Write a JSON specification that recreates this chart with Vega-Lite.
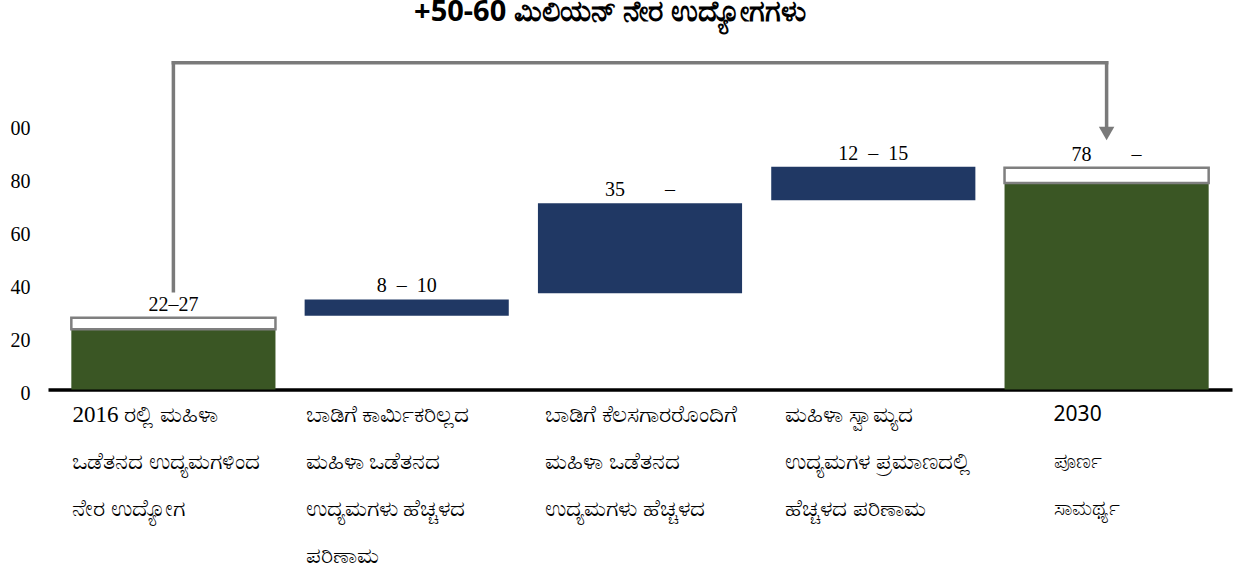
{
  "$schema": "https://vega.github.io/schema/vega-lite/v6.json",
  "autosize": {"type": "none"},
  "padding": {"left": 48, "top": 45, "right": 12, "bottom": 181.5},
  "width": 1184,
  "height": 344.5,
  "background": "white",
  "config": {"view": {"stroke": null}},
  "title": {
    "text": "+50-60 ಮಿಲಿಯನ್ ನೇರ ಉದ್ಯೋಗಗಳು",
    "font": "Noto Sans",
    "fontSize": 29,
    "fontWeight": "bold",
    "color": "black",
    "anchor": "middle",
    "baseline": "alphabetic",
    "offset": -5,
    "dx": -30
  },
  "datasets": {
    "cols": [
      {"cat": "2016 ರಲ್ಲಿ ಮಹಿಳಾ|ಒಡೆತನದ ಉದ್ಯಮಗಳಿಂದ|ನೇರ ಉದ್ಯೋಗ", "lo": 0, "hi": 22.7, "kind": "total", "boxLo": 22.7, "boxHi": 27.1, "text": "22–27", "textAt": 27.1},
      {"cat": "ಬಾಡಿಗೆ ಕಾರ್ಮಿಕರಿಲ್ಲದ|ಮಹಿಳಾ ಒಡೆತನದ|ಉದ್ಯಮಗಳು ಹೆಚ್ಚಳದ|ಪರಿಣಾಮ", "lo": 27.8, "hi": 34.0, "kind": "step", "boxLo": null, "boxHi": null, "text": "8\u00a0\u00a0–\u00a0\u00a010", "textAt": 34.0},
      {"cat": "ಬಾಡಿಗೆ ಕೆಲಸಗಾರರೊಂದಿಗೆ|ಮಹಿಳಾ ಒಡೆತನದ|ಉದ್ಯಮಗಳು ಹೆಚ್ಚಳದ", "lo": 36.3, "hi": 70.3, "kind": "step", "boxLo": null, "boxHi": null, "text": "35\u00a0\u00a0\u00a0\u00a0\u00a0\u00a0\u00a0\u00a0–", "textAt": 70.3},
      {"cat": "ಮಹಿಳಾ ಸ್ವಾಮ್ಯದ|ಉದ್ಯಮಗಳ ಪ್ರಮಾಣದಲ್ಲಿ|ಹೆಚ್ಚಳದ ಪರಿಣಾಮ", "lo": 71.4, "hi": 84.1, "kind": "step", "boxLo": null, "boxHi": null, "text": "12\u00a0\u00a0–\u00a0\u00a015", "textAt": 84.1},
      {"cat": "2030|ಪೂರ್ಣ|ಸಾಮರ್ಥ್ಯ", "lo": 0, "hi": 77.9, "kind": "total", "boxLo": 77.9, "boxHi": 83.7, "text": "78\u00a0\u00a0\u00a0\u00a0\u00a0\u00a0\u00a0\u00a0–", "textAt": 83.7}
    ],
    "bracket": [
      {"from": "2016 ರಲ್ಲಿ ಮಹಿಳಾ|ಒಡೆತನದ ಉದ್ಯಮಗಳಿಂದ|ನೇರ ಉದ್ಯೋಗ", "to": "2016 ರಲ್ಲಿ ಮಹಿಳಾ|ಒಡೆತನದ ಉದ್ಯಮಗಳಿಂದ|ನೇರ ಉದ್ಯೋಗ", "y1": 37.3, "y2": 123.3},
      {"from": "2016 ರಲ್ಲಿ ಮಹಿಳಾ|ಒಡೆತನದ ಉದ್ಯಮಗಳಿಂದ|ನೇರ ಉದ್ಯೋಗ", "to": "2030|ಪೂರ್ಣ|ಸಾಮರ್ಥ್ಯ", "y1": 123.3, "y2": 123.3},
      {"from": "2030|ಪೂರ್ಣ|ಸಾಮರ್ಥ್ಯ", "to": "2030|ಪೂರ್ಣ|ಸಾಮರ್ಥ್ಯ", "y1": 123.3, "y2": 98}
    ],
    "arrow": [
      {"cat": "2030|ಪೂರ್ಣ|ಸಾಮರ್ಥ್ಯ", "y": 96.6}
    ]
  },
  "layer": [
    {
      "data": {"name": "cols"},
      "mark": {"type": "bar", "stroke": null},
      "encoding": {
        "x": {
          "field": "cat", "type": "nominal", "sort": null,
          "scale": {"paddingInner": 0.125, "paddingOuter": 0.1},
          "axis": {
            "title": null,
            "domainColor": "black",
            "domainWidth": 3.5,
            "ticks": false,
            "labelAngle": 0,
            "labelAlign": "left",
            "labelBaseline": "top",
            "labelExpr": "split(datum.label, '|')",
            "labelLineHeight": 47,
            "labelPadding": 14,
            "labelFont": {"condition": {"test": "indexof(datum.label, '2030') >= 0", "value": "Noto Sans"}, "value": "Liberation Serif"},
            "labelFontSize": {"condition": {"test": "indexof(datum.label, '2030') >= 0", "value": 21}, "value": 23},
            "labelColor": "black",
            "labelLimit": 0,
            "labelOverlap": false,
            "labelBound": false,
            "labelOffset": {"condition": [
              {"test": "indexof(datum.label, '2030') >= 0", "value": -53},
              {"test": "indexof(datum.label, 'ಕೆಲಸಗಾರರೊಂದಿಗೆ') >= 0", "value": -95},
              {"test": "indexof(datum.label, 'ಸ್ವಾಮ್ಯದ') >= 0", "value": -88}
            ], "value": -101}
          }
        },
        "y": {
          "field": "lo", "type": "quantitative",
          "scale": {"domain": [0, 130], "nice": false, "zero": true},
          "axis": {
            "title": null,
            "values": [0, 20, 40, 60, 80, 100],
            "labelExpr": "datum.value == 100 ? '00' : datum.label",
            "domain": false,
            "ticks": false,
            "grid": false,
            "labelFont": "Liberation Serif",
            "labelFontSize": 20,
            "labelColor": "black",
            "labelPadding": 18,
            "labelOffset": 4
          }
        },
        "y2": {"field": "hi"},
        "color": {
          "field": "kind", "type": "nominal",
          "scale": {"domain": ["total", "step"], "range": ["#3a5624", "#203864"]},
          "legend": null
        }
      }
    },
    {
      "data": {"name": "cols"},
      "transform": [{"filter": "datum.boxLo != null"}],
      "mark": {"type": "bar", "fill": "white", "stroke": "#7f7f7f", "strokeWidth": 2.5},
      "encoding": {
        "x": {"field": "cat", "type": "nominal", "sort": null},
        "y": {"field": "boxLo", "type": "quantitative"},
        "y2": {"field": "boxHi"}
      }
    },
    {
      "data": {"name": "cols"},
      "mark": {"type": "text", "font": "Liberation Serif", "fontSize": 20, "color": "black", "baseline": "alphabetic", "align": "center", "dy": -7},
      "encoding": {
        "x": {"field": "cat", "type": "nominal", "sort": null},
        "y": {"field": "textAt", "type": "quantitative"},
        "text": {"field": "text"}
      }
    },
    {
      "data": {"name": "bracket"},
      "mark": {"type": "rule", "color": "#7a7a7a", "strokeWidth": 3.5, "strokeCap": "square"},
      "encoding": {
        "x": {"field": "from", "type": "nominal", "sort": null},
        "x2": {"field": "to"},
        "y": {"field": "y1", "type": "quantitative"},
        "y2": {"field": "y2"}
      }
    },
    {
      "data": {"name": "arrow"},
      "mark": {"type": "point", "shape": "triangle-down", "filled": true, "color": "#7a7a7a", "size": 240, "opacity": 1},
      "encoding": {
        "x": {"field": "cat", "type": "nominal", "sort": null},
        "y": {"field": "y", "type": "quantitative"}
      }
    }
  ]
}
